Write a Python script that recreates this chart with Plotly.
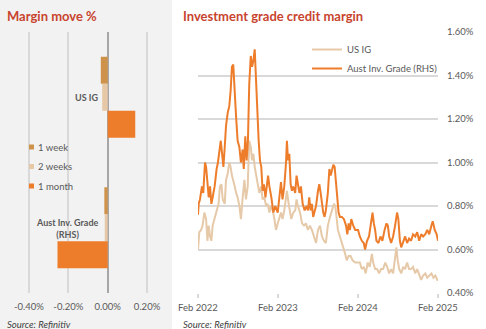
import plotly.graph_objects as go

W, H = 486, 329
def X(px): return px / W
def Y(py): return 1 - py / H

# ---------------- Data ----------------
categories = ["US IG", "Aust Inv. Grade (RHS)"]
move_1w = [-0.035, -0.017]
move_2w = [-0.028, -0.015]
move_1m = [0.14, -0.255]

aus_dates = [
 "2022-02-01","2022-02-04","2022-02-10","2022-02-19","2022-02-25","2022-03-05","2022-03-10","2022-03-16",
 "2022-03-22","2022-03-28","2022-04-03","2022-04-09","2022-04-18","2022-04-27","2022-05-03","2022-05-16",
 "2022-05-22","2022-05-28","2022-06-03","2022-06-09","2022-06-17","2022-06-24","2022-06-30","2022-07-06",
 "2022-07-12","2022-07-19","2022-07-25","2022-08-01","2022-08-09","2022-08-16","2022-08-24","2022-08-29",
 "2022-09-05","2022-09-11","2022-09-17","2022-09-23","2022-09-30","2022-10-06","2022-10-12","2022-10-18",
 "2022-10-24","2022-10-30","2022-11-05","2022-11-11","2022-11-17","2022-11-23","2022-11-29","2022-12-06",
 "2022-12-12","2022-12-18","2022-12-24","2023-01-02","2023-01-11","2023-01-20","2023-01-31","2023-02-07",
 "2023-02-15","2023-02-22","2023-03-02","2023-03-10","2023-03-14","2023-03-19","2023-03-25","2023-03-31",
 "2023-04-06","2023-04-12","2023-04-21","2023-04-27","2023-05-03","2023-05-10","2023-05-17","2023-05-25",
 "2023-06-03","2023-06-12","2023-06-18","2023-06-24","2023-06-30","2023-07-06","2023-07-12","2023-07-19",
 "2023-07-25","2023-08-03","2023-08-09","2023-08-15","2023-08-21","2023-08-27","2023-09-02","2023-09-08",
 "2023-09-17","2023-09-24","2023-09-30","2023-10-06","2023-10-12","2023-10-18","2023-10-24","2023-10-30",
 "2023-11-05","2023-11-11","2023-11-20","2023-11-29","2023-12-09","2023-12-15","2023-12-21","2023-12-27",
 "2024-01-02","2024-01-11","2024-01-20","2024-02-02","2024-02-10","2024-02-19","2024-02-28","2024-03-05",
 "2024-03-14","2024-03-23","2024-04-02","2024-04-08","2024-04-14","2024-04-20","2024-04-26","2024-05-05",
 "2024-05-14","2024-05-23","2024-06-02","2024-06-11","2024-06-17","2024-06-23","2024-07-02","2024-07-11",
 "2024-07-20","2024-07-29","2024-08-04","2024-08-11","2024-08-17","2024-08-26","2024-09-04","2024-09-13",
 "2024-09-22","2024-10-01","2024-10-10","2024-10-20","2024-10-29","2024-11-07","2024-11-16","2024-11-25",
 "2024-12-05","2024-12-14","2024-12-23","2025-01-02","2025-01-08","2025-01-17","2025-01-26","2025-02-01"]
aus_ig = [
 0.76,0.81,0.83,0.89,0.86,1.00,0.98,0.89,
 0.84,0.89,0.81,0.84,0.89,0.97,1.00,1.10,
 1.03,0.98,1.07,1.17,1.23,1.26,1.33,1.44,
 1.45,1.28,1.21,1.10,1.07,1.00,1.06,0.97,
 1.12,1.01,1.10,1.36,1.49,1.44,1.47,1.52,
 1.36,1.23,1.10,1.01,0.98,0.87,0.90,0.84,
 0.90,0.94,0.89,0.84,0.77,0.80,0.77,0.83,
 0.91,0.83,0.89,1.00,1.10,1.01,1.04,0.90,
 0.87,0.89,0.86,0.94,0.90,0.86,0.89,0.81,
 0.78,0.80,0.78,0.84,0.78,0.81,0.75,0.78,
 0.80,0.87,0.90,0.86,0.81,0.77,0.75,0.78,
 0.86,0.97,0.94,0.97,0.99,0.98,0.92,0.86,
 0.77,0.75,0.75,0.74,0.71,0.67,0.72,0.69,
 0.74,0.71,0.69,0.69,0.66,0.64,0.63,0.60,
 0.64,0.66,0.72,0.77,0.72,0.69,0.64,0.63,
 0.66,0.64,0.69,0.72,0.71,0.66,0.63,0.66,
 0.71,0.77,0.74,0.64,0.61,0.64,0.66,0.63,
 0.65,0.64,0.67,0.66,0.68,0.64,0.67,0.66,
 0.67,0.69,0.67,0.71,0.73,0.69,0.67,0.64]

us_dates = [
 "2022-02-01","2022-02-07","2022-02-15","2022-02-22","2022-03-02","2022-03-10","2022-03-16","2022-03-22",
 "2022-03-28","2022-04-03","2022-04-09","2022-04-18","2022-04-27","2022-05-06","2022-05-12","2022-05-19",
 "2022-05-25","2022-06-03","2022-06-09","2022-06-17","2022-06-24","2022-06-30","2022-07-06","2022-07-12",
 "2022-07-19","2022-07-25","2022-08-01","2022-08-09","2022-08-16","2022-08-24","2022-09-01","2022-09-08",
 "2022-09-16","2022-09-23","2022-09-30","2022-10-06","2022-10-12","2022-10-18","2022-10-24","2022-10-31",
 "2022-11-08","2022-11-16","2022-11-23","2022-12-01","2022-12-09","2022-12-16","2022-12-24","2022-12-31",
 "2023-01-08","2023-01-16","2023-01-23","2023-01-31","2023-02-07","2023-02-15","2023-02-22","2023-03-02",
 "2023-03-10","2023-03-14","2023-03-22","2023-03-28","2023-04-03","2023-04-12","2023-04-21","2023-04-27",
 "2023-05-03","2023-05-13","2023-05-22","2023-05-31","2023-06-09","2023-06-18","2023-06-27","2023-07-06",
 "2023-07-16","2023-07-25","2023-08-03","2023-08-12","2023-08-21","2023-08-30","2023-09-08","2023-09-17",
 "2023-09-27","2023-10-06","2023-10-15","2023-10-21","2023-10-27","2023-11-02","2023-11-11","2023-11-20",
 "2023-11-29","2023-12-05","2023-12-12","2023-12-21","2023-12-30","2024-01-08","2024-01-20","2024-02-02",
 "2024-02-10","2024-02-19","2024-02-28","2024-03-08","2024-03-17","2024-03-26","2024-04-05","2024-04-11",
 "2024-04-20","2024-04-29","2024-05-08","2024-05-17","2024-05-26","2024-06-05","2024-06-14","2024-06-23",
 "2024-07-02","2024-07-11","2024-07-20","2024-07-26","2024-08-01","2024-08-08","2024-08-17","2024-08-26",
 "2024-09-04","2024-09-13","2024-09-22","2024-10-01","2024-10-10","2024-10-20","2024-10-29","2024-11-07",
 "2024-11-16","2024-11-25","2024-12-05","2024-12-14","2024-12-23","2025-01-02","2025-01-11","2025-01-20",
 "2025-01-29","2025-02-01"]
us_ig = [
 0.60,0.68,0.69,0.71,0.77,0.74,0.64,0.71,
 0.66,0.64,0.71,0.74,0.78,0.81,0.89,0.90,
 0.83,0.81,0.92,0.95,1.00,0.98,0.94,0.92,
 0.89,0.86,0.84,0.80,0.74,0.84,0.92,0.83,
 0.89,1.10,1.07,1.01,1.04,0.98,0.95,0.90,
 0.86,0.89,0.83,0.84,0.80,0.81,0.77,0.80,
 0.78,0.74,0.69,0.72,0.74,0.77,0.74,0.78,
 0.84,0.87,0.81,0.78,0.74,0.77,0.78,0.83,
 0.80,0.77,0.72,0.71,0.72,0.69,0.71,0.69,
 0.66,0.63,0.69,0.71,0.66,0.64,0.63,0.71,
 0.75,0.78,0.81,0.80,0.74,0.69,0.66,0.63,
 0.61,0.58,0.55,0.57,0.57,0.55,0.54,0.54,
 0.54,0.51,0.52,0.49,0.54,0.52,0.58,0.54,
 0.51,0.51,0.49,0.51,0.51,0.54,0.52,0.49,
 0.51,0.49,0.55,0.61,0.55,0.51,0.49,0.52,
 0.51,0.54,0.51,0.51,0.52,0.49,0.51,0.48,
 0.46,0.48,0.49,0.47,0.48,0.49,0.47,0.48,
 0.46,0.46]

bar_ticks = [-0.4, -0.2, 0.0, 0.2]
bar_ticktext = ["-0.40%", "-0.20%", "0.00%", "0.20%"]
date_ticks = ["2022-02-01", "2023-02-01", "2024-02-01", "2025-02-01"]
date_ticktext = ["Feb 2022", "Feb 2023", "Feb 2024", "Feb 2025"]
y_ticks = [0.4, 0.6, 0.8, 1.0, 1.2, 1.4, 1.6]
y_ticktext = ["0.40%", "0.60%", "0.80%", "1.00%", "1.20%", "1.40%", "1.60%"]

# ---------------- Styles ----------------
C_1W, C_2W, C_1M = "#cf924a", "#e6c8a6", "#ee7d2b"
C_US, C_AU = "#e6c9a8", "#ee7d2b"
TXT = "#595959"
TITLE = "#c8442f"
GRID = "#d9d9d9"
FONT = "Lato"

fig = go.Figure()
for name, vals, col in [("1 week", move_1w, C_1W), ("2 weeks", move_2w, C_2W), ("1 month", move_1m, C_1M)]:
    fig.add_trace(go.Bar(y=categories, x=vals, orientation="h", name=name, marker_color=col,
                         marker_line_width=0, xaxis="x", yaxis="y", showlegend=False))

fig.add_trace(go.Scatter(x=us_dates, y=us_ig, mode="lines", name="US IG",
                         line=dict(color=C_US, width=2), xaxis="x2", yaxis="y2"))
fig.add_trace(go.Scatter(x=aus_dates, y=aus_ig, mode="lines", name="Aust Inv. Grade (RHS)",
                         line=dict(color=C_AU, width=2), xaxis="x2", yaxis="y2"))

ydom = [Y(293), Y(32)]
fig.update_layout(
    template="none",
    width=W, height=H, margin=dict(l=0, r=0, t=0, b=0, pad=0), autosize=False,
    paper_bgcolor="white", plot_bgcolor="rgba(0,0,0,0)",
    font=dict(family=FONT, size=9, color=TXT),
    barmode="group", bargap=0.38, bargroupgap=0,
    xaxis=dict(domain=[X(9.25), X(166.75)], range=[-0.5, 0.3], tickvals=bar_ticks, ticktext=bar_ticktext,
               showgrid=True, gridcolor=GRID, gridwidth=1.5, zeroline=True, zerolinecolor="#a6a6a6",
               zerolinewidth=1.5, showline=False, ticks="", ticklabelstandoff=6, automargin=False,
               tickfont=dict(size=9.5, color=TXT), anchor="y"),
    yaxis=dict(domain=ydom, autorange="reversed", showticklabels=False, showgrid=False,
               zeroline=False, showline=False, anchor="x", automargin=False, ticks=""),
    xaxis2=dict(domain=[X(198), X(438)], range=["2022-02-01", "2025-02-01"], tickvals=date_ticks,
                ticktext=date_ticktext, showgrid=False, zeroline=False, showline=False,
                ticks="outside", ticklen=4, tickcolor=GRID, tickwidth=1.5, ticklabelstandoff=2,
                tickfont=dict(size=9.5, color=TXT), anchor="y2", automargin=False),
    yaxis2=dict(domain=ydom, range=[0.4, 1.6], side="right", tickvals=y_ticks, ticktext=y_ticktext,
                showgrid=True, gridcolor=GRID, gridwidth=1.5, zeroline=False, showline=False,
                ticks="", ticklabelstandoff=8, tickfont=dict(size=9.5, color=TXT), anchor="x2",
                automargin=False),
    legend=dict(x=X(307), y=Y(35), xanchor="left", yanchor="top", bgcolor="rgba(0,0,0,0)",
                font=dict(size=9.5, color=TXT), tracegroupgap=0),
    showlegend=True,
)

shapes = [dict(type="rect", xref="paper", yref="paper", x0=0, x1=X(172), y0=0, y1=1,
               fillcolor="#f2f2f2", line_width=0, layer="below")]
annotations = [
    dict(text="<b>Margin move %</b>", x=X(5), y=Y(16), xanchor="left", yanchor="middle",
         font=dict(size=13, color=TITLE)),
    dict(text="<b>Investment grade credit margin</b>", x=X(181), y=Y(16), xanchor="left", yanchor="middle",
         font=dict(size=13, color=TITLE)),
    dict(text="<i>Source: Refinitiv</i>", x=X(5), y=Y(324), xanchor="left", yanchor="middle",
         font=dict(size=9.5, color="#404040")),
    dict(text="<i>Source: Refinitiv</i>", x=X(181), y=Y(324), xanchor="left", yanchor="middle",
         font=dict(size=9.5, color="#404040")),
    dict(text="<b>US IG</b>", x=X(100), y=Y(97), xanchor="right", yanchor="middle",
         font=dict(size=9, color=TXT)),
    dict(text="<b>Aust Inv. Grade<br>(RHS)</b>", x=X(100), y=Y(228), xanchor="right", yanchor="middle",
         align="center", font=dict(size=9, color=TXT)),
]
for i, (name, col) in enumerate([("1 week", C_1W), ("2 weeks", C_2W), ("1 month", C_1M)]):
    yc = 147 + i * 19.5
    shapes.append(dict(type="rect", xref="paper", yref="paper", x0=X(29), x1=X(34), y0=Y(yc + 2.5),
                       y1=Y(yc - 2.5), fillcolor=col, line_width=0))
    annotations.append(dict(text=name, x=X(35.5), y=Y(yc), xanchor="left", yanchor="middle",
                            font=dict(size=9.5, color=TXT)))
for a in annotations:
    a.update(xref="paper", yref="paper", showarrow=False)
fig.update_layout(shapes=shapes, annotations=annotations)

fig.write_html("out.html")
